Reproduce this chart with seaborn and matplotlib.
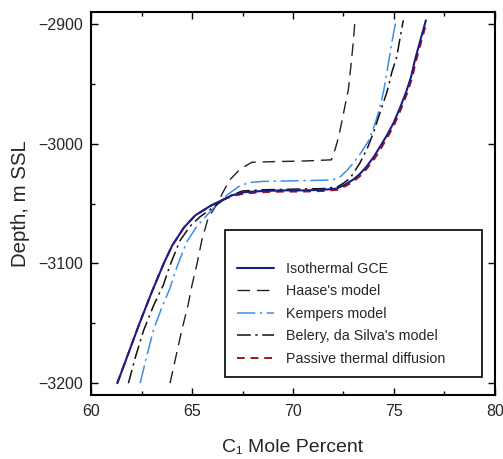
import matplotlib
matplotlib.use("Agg")
import matplotlib.pyplot as plt
from matplotlib.ticker import MultipleLocator
import pandas as pd
import seaborn as sns

# C1 mole percent (x) vs depth (y)
x_iso = [61.30, 61.85, 62.40, 62.98, 63.60, 64.02, 64.60, 65.15, 65.90, 66.50, 67.00, 67.60,
         68.50, 69.50, 70.50, 71.50, 72.16, 72.60, 72.98, 73.30, 73.65, 74.00, 74.31, 74.65,
         74.97, 75.30, 75.60, 75.85, 76.04, 76.30, 76.58]
y_iso = [-3200, -3175, -3150, -3125, -3100, -3085, -3070, -3060, -3052, -3047, -3043, -3040.5,
         -3039.5, -3039, -3039, -3038.5, -3037.5, -3034, -3030, -3025.5, -3019, -3011, -3002.5, -2993,
         -2983, -2970, -2957, -2944, -2930, -2914, -2897]

x_haase = [63.91, 64.20, 64.49, 64.80, 65.00, 65.25, 65.48, 65.80, 66.22, 66.55, 66.88, 67.40,
           67.97, 69.00, 70.50, 71.90, 72.08, 72.25, 72.40, 72.58, 72.74, 72.90, 73.00, 73.07]
y_haase = [-3200, -3178, -3156, -3135, -3118, -3100, -3081, -3062, -3051, -3040, -3030, -3021,
           -3015.5, -3015, -3014.5, -3013.5, -3005, -2995, -2983, -2968, -2955, -2930, -2912, -2897]

x_kempers = [62.43, 62.75, 63.10, 63.50, 63.90, 64.25, 64.74, 65.20, 65.72, 66.22, 66.80, 67.30,
             67.80, 68.50, 70.00, 71.50, 72.00, 72.35, 72.66, 73.00, 73.35, 73.73, 74.05, 74.30,
             74.50, 74.72, 74.90, 75.10]
y_kempers = [-3200, -3178, -3155, -3137, -3121, -3103, -3082, -3070, -3060, -3051, -3042, -3036,
             -3032.5, -3031.5, -3031, -3030.5, -3030, -3027.5, -3022.5, -3016, -3008, -2998, -2984, -2970,
             -2955, -2933, -2915, -2897]

x_belery = [61.85, 62.20, 62.60, 63.10, 63.58, 63.90, 64.40, 64.90, 65.40, 66.22, 66.80, 67.50,
            68.50, 70.00, 71.50, 72.20, 72.50, 72.82, 73.32, 73.70, 73.98, 74.39, 74.65, 74.90,
            75.13, 75.30, 75.46]
y_belery = [-3200, -3178, -3156, -3135, -3118, -3102, -3081, -3069, -3061, -3051, -3044, -3039.5,
            -3038.5, -3038, -3037.5, -3036, -3033, -3029, -3016, -3003, -2991, -2970, -2957, -2940,
            -2928, -2912, -2897]

x_ptd = [61.30, 61.85, 62.40, 62.98, 63.60, 64.02, 64.60, 65.15, 65.90, 66.52, 67.04, 67.65,
         68.50, 69.50, 70.50, 71.50, 72.20, 72.65, 73.03, 73.36, 73.70, 74.06, 74.37, 74.70,
         75.02, 75.35, 75.65, 75.90, 76.09, 76.35, 76.62]
y_ptd = [-3200, -3175, -3150, -3125, -3100, -3085, -3070, -3060, -3052, -3047, -3043.5, -3041.5,
         -3040.5, -3040, -3040, -3039.5, -3038.5, -3035, -3031, -3026.5, -3020, -3012, -3003.5, -2994,
         -2984, -2971, -2958, -2945, -2931, -2915, -2898]

series = [
    ("Isothermal GCE", x_iso, y_iso, "#1c1c88", (None, None), 1.5, 3),
    ("Haase's model", x_haase, y_haase, "#222222", (9, 5), 1.0, 2),
    ("Kempers model", x_kempers, y_kempers, "#3a8fe8", (12, 3, 1.5, 3), 1.1, 2),
    ("Belery, da Silva's model", x_belery, y_belery, "#111111", (9, 3, 1.5, 3), 1.1, 2),
    ("Passive thermal diffusion", x_ptd, y_ptd, "#a01515", (4, 3), 1.4, 1),
]

sns.set_style("ticks")
plt.rcParams["font.family"] = ["Liberation Sans", "DejaVu Sans"]

fig = plt.figure(figsize=(5.03, 4.59), dpi=100)
ax = fig.add_axes([0.181, 0.139, 0.803, 0.835])

for name, xs, ys, color, dash, lw, z in series:
    df = pd.DataFrame({"x": xs, "y": ys})
    sns.lineplot(data=df, x="x", y="y", ax=ax, sort=False, color=color,
                 linewidth=lw, label=name, estimator=None, zorder=z)
    l = ax.get_lines()[-1]
    if dash[0] is not None:
        l.set_dashes(dash)

ax.set_xlim(60, 80)
ax.set_ylim(-3210, -2890)
ax.xaxis.set_major_locator(MultipleLocator(5))
ax.xaxis.set_minor_locator(MultipleLocator(2.5))
ax.yaxis.set_major_locator(MultipleLocator(100))
ax.yaxis.set_minor_locator(MultipleLocator(50))
ax.tick_params(which="both", direction="in", top=True, right=True, labelsize=11.5,
               color="black", pad=6)
ax.tick_params(which="major", length=5, width=1)
ax.tick_params(which="minor", length=3, width=1, right=False)
for sp in ax.spines.values():
    sp.set_linewidth(1.5)
    sp.set_color("black")

ax.set_xlabel("C\u2081 Mole Percent", fontsize=14, labelpad=15)
ax.set_ylabel("Depth, m SSL", fontsize=14.7, labelpad=6)

leg = ax.legend(loc="lower left", bbox_to_anchor=(0.332, 0.047, 0.636, 0.37), mode="expand",
                title=" ", fontsize=10.25, title_fontsize=9, frameon=True, fancybox=False,
                handlelength=2.6, handletextpad=0.85, labelspacing=0.6,
                borderpad=0.8, borderaxespad=0)
leg._legend_box.align = "left"
leg.get_frame().set_edgecolor("black")
leg.get_frame().set_linewidth(1.2)
leg.get_frame().set_alpha(1)

fig.savefig("out.png", dpi=100)
